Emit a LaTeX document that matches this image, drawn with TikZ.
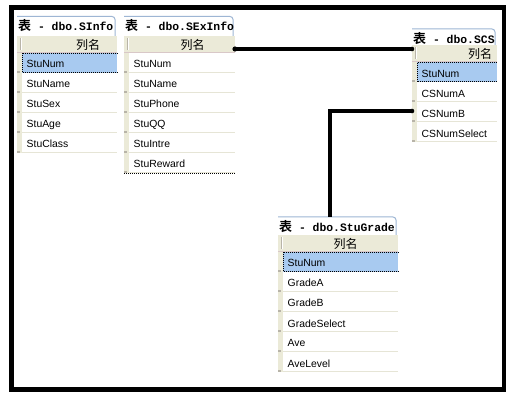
\documentclass[tikz,border=0pt]{standalone}
\usepackage{fontspec}
\setmainfont{Liberation Sans}
\newfontfamily\cjk{Noto Sans CJK SC}[BoldFont={Noto Sans CJK SC Bold}]
\newfontfamily\ttl{Liberation Mono}
\definecolor{hdrfill}{HTML}{EBEAD8}
\definecolor{hdrline}{HTML}{D9C8C8}
\definecolor{tabline}{HTML}{9EB6D4}
\definecolor{rowline}{HTML}{E6E5D6}
\definecolor{selfill}{HTML}{A8CAF0}
\definecolor{markc}{HTML}{B8B4A8}
\tikzset{
  tabborder/.style={draw=tabline,line width=1pt,rounded corners=3pt},
  titletext/.style={inner sep=0pt,font=\fontsize{11.4}{14}\selectfont},
  hdrtext/.style={inner sep=0pt,font=\cjk\fontsize{12}{14}\selectfont},
  rowtext/.style={inner sep=0pt,font=\fontsize{10.4}{12}\selectfont},
  seldot/.style={draw=black,line width=1pt,dash pattern=on 1pt off 1pt},
  conn/.style={draw=black,line width=4pt},
  blob/.style={fill=black},
}
\def\selrow{0}
\newcommand\dbtab[9]{%
  \fill[white] (#2,#4) rectangle (#3,#5);
  \draw[tabborder] (#2,#4) -- ({#3-2},#4) -- ({#3-2},#5);
  \node[titletext,anchor=base west] (#1-title) at ({#2+1},{#4+14.5}) {{\cjk\bfseries\fontsize{13}{14}\selectfont 表}\ttl\bfseries{} - #7};
  \fill[hdrfill] (#2,#5) rectangle (#3,#6);
  \draw[hdrline,line width=1pt] (#2,{#6-0.5}) -- (#3,{#6-0.5});
  \draw[markc,line width=1pt] ({#2+3.5},{#5+2}) -- ({#2+3.5},{#6-3});
  \draw[white,line width=0.8pt] ({#2+4.5},{#5+2}) -- ({#2+4.5},{#6-3});
  \node[hdrtext] (#1-hdr) at (#8,{(#5+#6)/2+0.5}) {列名};
  \foreach \r [count=\i] in {#9} {
    \pgfmathsetmacro\yt{#6+(\i-1)*20}
    \fill[hdrfill] (#2,\yt) rectangle ({#2+5},\yt+20);
    \fill[markc] (#2,\yt+18) rectangle ({#2+3},\yt+20);
    \draw[rowline,line width=1pt] ({#2+5},\yt+19.5) -- (#3,\yt+19.5);
    \ifnum\i=\selrow
      \fill[selfill] ({#2+5},\yt) rectangle (#3,\yt+20);
      \draw[seldot] ({#2+5.5},\yt+0.5) -- (#3,\yt+0.5);
      \draw[seldot] ({#2+5.5},\yt+0.5) -- ({#2+5.5},\yt+19.5);
      \draw[seldot] ({#2+5.5},\yt+19.5) -- (#3,\yt+19.5);
    \fi
    \node[rowtext,anchor=base west] (#1-r\i) at ({#2+9.5},\yt+15) {\r};
  }
}
\begin{document}
\begin{tikzpicture}[x=1pt,y=-1pt]
\useasboundingbox (0,0) rectangle (515,401);
\fill[white] (0,0) rectangle (515,401);
\draw[line width=4.5pt] (11.7,7.5) rectangle (503.8,389.5);

\def\selrow{1}
\dbtab{sinfo}{17}{117}{16.5}{36}{53}{dbo.SInfo}{88}{StuNum,StuName,StuSex,StuAge,StuClass}
\def\selrow{0}
\dbtab{sexinfo}{124}{235}{16.5}{36}{53}{dbo.SExInfo}{192.5}{StuNum,StuName,StuPhone,StuQQ,StuIntre,StuReward}
\draw[seldot] (124,173.5) -- (235,173.5);
\def\selrow{1}
\dbtab{scs}{412}{497}{29}{45}{62.5}{dbo.SCS}{480}{StuNum,CSNumA,CSNumB,CSNumSelect}
\dbtab{grade}{278}{398}{217}{235}{252}{dbo.StuGrade}{345.5}{StuNum,GradeA,GradeB,GradeSelect,Ave,AveLevel}

\coordinate (c1s) at (235,49);
\coordinate (c1e) at (412,49);
\coordinate (c2s) at (412,111);
\coordinate (c2e) at (330,217);
\draw[conn] (c1s) -- (c1e);
\draw[conn] (c2s) -| (c2e);
\fill[blob] (c1s) circle (2.6);
\fill[blob] (c1e) circle (2.3);
\fill[blob] (c2s) circle (2.3);
\end{tikzpicture}
\end{document}
